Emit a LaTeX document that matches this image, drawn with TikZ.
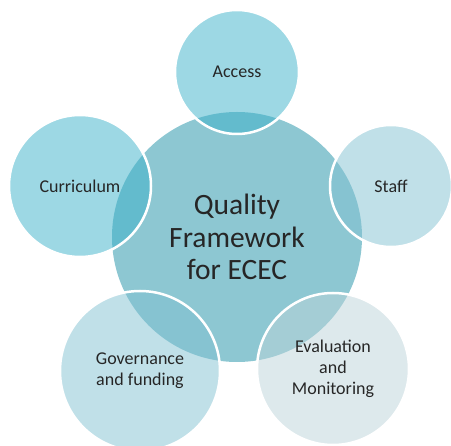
\documentclass[tikz,border=0pt]{standalone}
\usepackage{fontspec}
\setmainfont{Carlito}
\definecolor{hubfill}{RGB}{141,199,210}
\definecolor{tealA}{RGB}{59,177,201}
\definecolor{tealB}{RGB}{129,193,209}
\definecolor{tealC}{RGB}{187,211,217}
\definecolor{labeltext}{RGB}{38,38,38}
\begin{document}
\begin{tikzpicture}[x=1pt,y=-1pt,
  hub/.style={circle, fill=hubfill, minimum size=250pt, inner sep=0pt,
    align=center, text=labeltext, font=\fontsize{29.5}{32.5}\selectfont},
  petal/.style={circle, draw=white, line width=2.5pt, fill opacity=0.5,
    text opacity=1, inner sep=0pt, align=center, text=labeltext,
    font=\fontsize{18}{21}\selectfont}]
  \useasboundingbox (0,0) rectangle (451,446);
  % central concept
  \node[hub] (hub) at (237,237) {Quality\\Framework\\for ECEC};
  % surrounding dimensions
  \node[petal, fill=tealA, minimum size=124pt] (access) at (237,72) {Access};
  \node[petal, fill=tealA, minimum size=142pt] (curric) at (80,186) {Curriculum};
  \node[petal, fill=tealB, minimum size=122pt] (staff) at (391,186) {Staff};
  \node[petal, fill=tealB, minimum size=160pt] (gov) at (140,371) {Governance\\and funding};
  \node[petal, fill=tealC, minimum size=152pt] (eval) at (333,369) {Evaluation\\and\\Monitoring};
\end{tikzpicture}
\end{document}
